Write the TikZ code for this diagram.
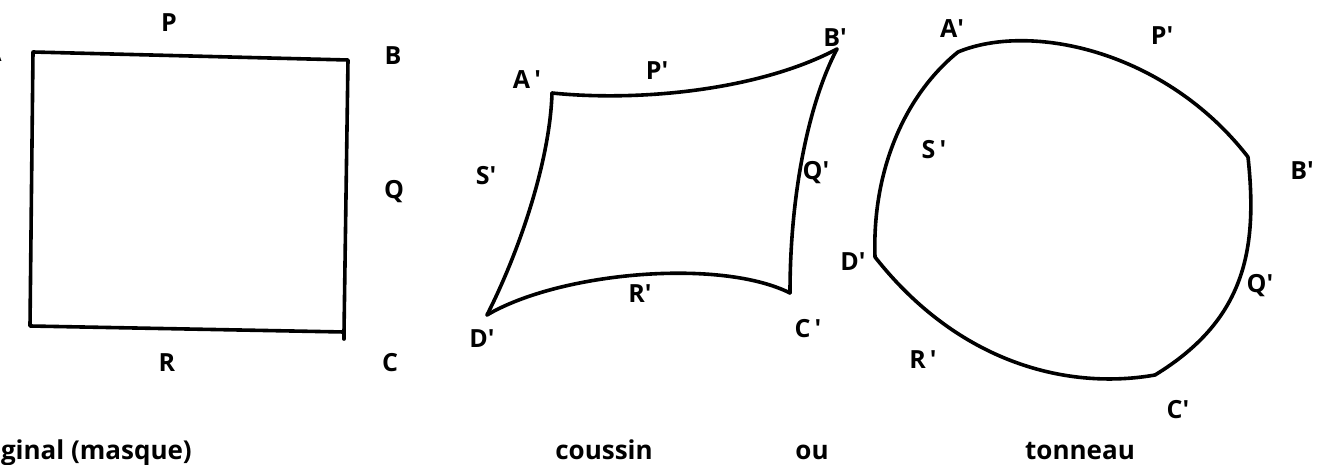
\documentclass[tikz,border=0pt]{standalone}
\usepackage{fontspec}
\setmainfont{Open Sans}
\begin{document}
\begin{tikzpicture}[x=1pt,y=-1pt,
  edge/.style={line width=3.6pt,line join=round,line cap=round,black},
  lab/.style={anchor=base,inner sep=0pt,font=\fontsize{25}{30}\selectfont\bfseries},
  captxt/.style={anchor=base,inner sep=0pt,font=\fontsize{26}{32}\selectfont\bfseries}]
\useasboundingbox (0,0) rectangle (1323,465);
\clip (0,0) rectangle (1323,465);
\newcommand{\pr}{\textquotesingle}
% ---------- original square ----------
\coordinate (A) at (33,52);
\coordinate (B) at (348,60);
\coordinate (C) at (344,332);
\coordinate (D) at (30,326);
\coordinate (Ct) at (344,339);
\draw[edge] (A) -- (B) -- (C) -- (D) -- cycle;
\draw[edge] (C) -- (Ct);
\node[lab] (lA) at (-7,62) {A};
\node[lab] (lP) at (169,32) {P};
\node[lab] (lB) at (393,65) {B};
\node[lab] (lQ) at (394,199) {Q};
\node[lab] (lR) at (167,371) {R};
\node[lab] (lC) at (390,371) {C};
\node[captxt,anchor=base east] (c1) at (192,459) {original (masque)};
% ---------- coussin ----------
\coordinate (A1) at (552,93);
\coordinate (B1) at (837,49);
\coordinate (C1) at (790,293);
\coordinate (D1) at (487,315);
\draw[edge] (A1) .. controls (640,102) and (760,90) .. (B1);
\draw[edge] (B1) .. controls (810,100) and (790,190) .. (C1);
\draw[edge] (A1) .. controls (550,160) and (520,250) .. (D1);
\draw[edge] (D1) .. controls (560,272) and (720,258) .. (C1);
\node[lab] (lA1) at (527,89) {A\,\pr};
\node[lab] (lP1) at (657,80) {P\pr};
\node[lab] (lB1) at (835,47) {B\pr};
\node[lab] (lS1) at (486,185) {S\pr};
\node[lab] (lQ1) at (816,180) {Q\pr};
\node[lab] (lR1) at (640,302) {R\pr};
\node[lab] (lD1) at (482,347) {D\pr};
\node[lab] (lC1) at (808,337) {C\,\pr};
\node[captxt] (c2) at (604,459) {coussin};
\node[captxt] (c3) at (812,459) {ou};
% ---------- tonneau ----------
\coordinate (A2) at (958,52);
\coordinate (B2) at (1248,157);
\coordinate (C2) at (1155,375);
\coordinate (D2) at (875,257);
\draw[edge] (A2) .. controls (1030,22) and (1165,50) .. (B2);
\draw[edge] (B2) .. controls (1258,250) and (1245,320) .. (C2);
\draw[edge] (C2) .. controls (1070,390) and (960,365) .. (D2);
\draw[edge] (D2) .. controls (872,170) and (905,95) .. (A2);
\node[lab] (lA2) at (952,38) {A\pr};
\node[lab] (lP2) at (1162,45) {P\pr};
\node[lab] (lS2) at (934,159) {S\,\pr};
\node[lab] (lB2) at (1302,180) {B\pr};
\node[lab] (lD2) at (853,270) {D\pr};
\node[lab] (lQ2) at (1260,292) {Q\pr};
\node[lab] (lR2) at (923,368) {R\,\pr};
\node[lab] (lC2) at (1178,418) {C\pr};
\node[captxt] (c4) at (1080,459) {tonneau};
\end{tikzpicture}
\end{document}
